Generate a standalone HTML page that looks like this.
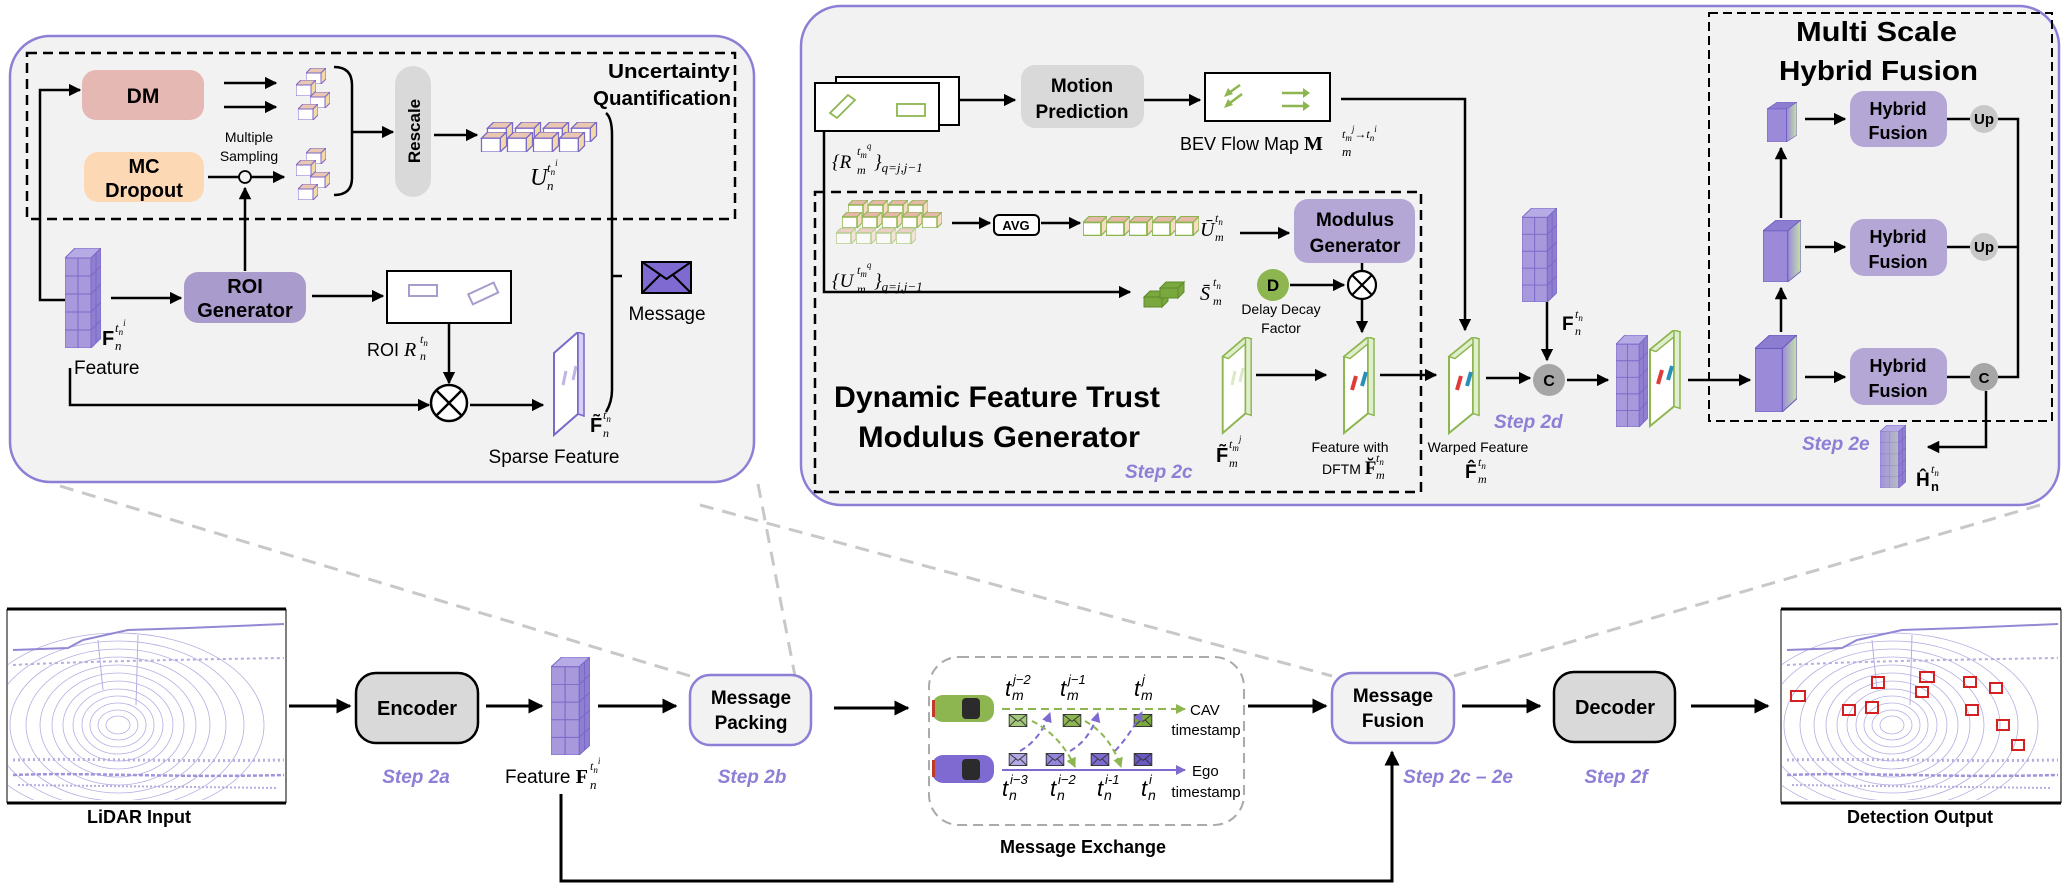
<!DOCTYPE html>
<html><head><meta charset="utf-8"><style>
html,body{margin:0;padding:0;background:#fff;}
svg{display:block;}
text{font-family:"Liberation Sans Narrow","Liberation Sans",sans-serif;}
.b{font-weight:bold;}
.m{font-family:"Liberation Serif",serif;font-style:italic;}
.st{font-family:"Liberation Sans Narrow","Liberation Sans",sans-serif;font-style:italic;font-weight:bold;fill:#8c7fd6;font-size:19px;}
</style></head><body>
<svg width="2069" height="888" viewBox="0 0 2069 888" xmlns="http://www.w3.org/2000/svg">
<defs>
<marker id="a" viewBox="0 0 10 10" refX="9" refY="5" markerWidth="5" markerHeight="5" orient="auto-start-reverse" markerUnits="strokeWidth"><path d="M0,0 L10,5 L0,10 z" fill="#000"/></marker>
<marker id="ag" viewBox="0 0 10 10" refX="9" refY="5" markerWidth="5" markerHeight="5" orient="auto"><path d="M0,0 L10,5 L0,10 z" fill="#8db650"/></marker>
<marker id="ap" viewBox="0 0 10 10" refX="9" refY="5" markerWidth="5" markerHeight="5" orient="auto"><path d="M0,0 L10,5 L0,10 z" fill="#7e6ad0"/></marker>
<symbol id="wall" viewBox="0 0 36 100" preserveAspectRatio="none">
<polygon points="0,10 10,0 36,0 26,10" fill="#b7abe6" stroke="#7b68c8" stroke-width="1"/>
<polygon points="26,10 36,0 36,90 26,100" fill="#8f7fd0" stroke="#7b68c8" stroke-width="1"/>
<rect x="0" y="10" width="26" height="90" fill="#a898dc" stroke="#7b68c8" stroke-width="1"/>
<path d="M13,10V100M0,28H26M0,46H26M0,64H26M0,82H26M31,5V95M26,28L36,18M26,46L36,36M26,64L36,54M26,82L36,72" stroke="#7b68c8" stroke-width="1" fill="none"/>
</symbol>
<linearGradient id="gpg" x1="0" y1="0" x2="1" y2="0"><stop offset="0" stop-color="#9a8ad8"/><stop offset="1" stop-color="#c6e3a8"/></linearGradient>
<symbol id="gcube" viewBox="0 0 40 80" preserveAspectRatio="none">
<polygon points="0,14 14,0 40,0 26,14" fill="#8d7dd0" stroke="#6a58c0"/>
<polygon points="26,14 40,0 40,66 26,80" fill="url(#gpg)" stroke="#6a58c0"/>
<rect x="0" y="14" width="26" height="66" fill="#9a8ad8" stroke="#6a58c0"/>
</symbol>
<symbol id="slabg" viewBox="0 0 40 100" preserveAspectRatio="none">
<polygon points="6,20 30,0 30,78 6,98" fill="#fff" stroke="#8db650" stroke-width="2"/>
<polygon points="6,20 30,0 36,2 12,22" fill="#dfeecd" stroke="#8db650" stroke-width="1.5"/>
<polygon points="30,0 36,2 36,80 30,78" fill="#dfeecd" stroke="#8db650" stroke-width="1.5"/>
</symbol>
<symbol id="slabp" viewBox="0 0 40 100" preserveAspectRatio="none">
<polygon points="6,20 30,0 30,78 6,98" fill="#fff" stroke="#7b68c8" stroke-width="2"/>
<polygon points="30,0 36,2 36,80 30,78" fill="#d8d0f2" stroke="#7b68c8" stroke-width="1.5"/>
</symbol>
<symbol id="uc" viewBox="0 0 20 16">
<polygon points="0,5 5,0 20,0 15,5" fill="#e9c7b0" stroke="#7b68c8"/>
<polygon points="15,5 20,0 20,11 15,16" fill="#f4d9a8" stroke="#7b68c8"/>
<rect x="0" y="5" width="15" height="11" fill="#fff" stroke="#7b68c8"/>
</symbol>
<symbol id="ug" viewBox="0 0 20 16">
<polygon points="0,5 5,0 20,0 15,5" fill="#e7b8a8" stroke="#8db650"/>
<polygon points="15,5 20,0 20,11 15,16" fill="#f6dcc0" stroke="#8db650"/>
<rect x="0" y="5" width="15" height="11" fill="#fff" stroke="#8db650" stroke-width="1.5"/>
</symbol>
<symbol id="env" viewBox="0 0 20 14"><rect x="0.5" y="0.5" width="19" height="13" stroke="#333" stroke-width="1"/><path d="M0.5,0.5 L10,8 L19.5,0.5 M0.5,13.5 L8,6 M19.5,13.5 L12,6" stroke="#333" fill="none" stroke-width="1"/></symbol>
<clipPath id="lc"><rect x="0" y="0" width="276" height="190"/></clipPath>
<g id="lidar">
<rect x="0" y="0" width="278" height="192" fill="#fff"/>
<g clip-path="url(#lc)" fill="none" stroke="#9c94d8" stroke-width="0.8" opacity="0.75">
<ellipse cx="110" cy="115" rx="12" ry="9"/><ellipse cx="110" cy="115" rx="20" ry="15"/><ellipse cx="110" cy="115" rx="28" ry="22"/><ellipse cx="110" cy="115" rx="36" ry="29"/><ellipse cx="110" cy="115" rx="45" ry="36"/><ellipse cx="110" cy="115" rx="55" ry="44"/><ellipse cx="110" cy="115" rx="66" ry="52"/><ellipse cx="110" cy="115" rx="78" ry="60"/><ellipse cx="110" cy="115" rx="92" ry="68"/><ellipse cx="110" cy="115" rx="108" ry="76"/><ellipse cx="110" cy="115" rx="126" ry="84"/><ellipse cx="110" cy="115" rx="146" ry="92"/>
<path d="M5,40 L60,38 L75,30 L120,20 L180,18 L276,14" stroke="#6e62c8" stroke-width="2"/>
<path d="M5,55 C60,52 150,50 276,48" stroke-dasharray="3 3" stroke-width="2"/>
<path d="M5,150 C80,148 160,152 276,150" stroke-dasharray="2 3" stroke-width="3"/>
<path d="M5,165 C80,162 160,168 276,165" stroke-dasharray="4 2" stroke-width="2.5" stroke="#7e72d0"/>
<path d="M10,175 L270,178" stroke-dasharray="2 2" stroke-width="2"/>
<path d="M90,30 L95,80 M130,25 L128,95" stroke-width="1"/>
</g></g>
</defs>

<g stroke="#c8c8c8" stroke-width="3" stroke-dasharray="14 9" fill="none">
<path d="M60,486 L690,676"/><path d="M758,484 L795,676"/>
<path d="M700,505 L1332,676"/><path d="M2040,505 L1454,676"/>
</g>

<!-- LEFT PANEL -->
<rect x="10" y="36" width="744" height="446" rx="40" fill="#f2f2f2" stroke="#8c7fd6" stroke-width="2.5"/>
<rect x="27" y="53" width="708" height="166" fill="none" stroke="#000" stroke-width="2.5" stroke-dasharray="10 6"/>
<rect x="82" y="70" width="122" height="50" rx="14" fill="#e6b8b4"/>
<text x="143" y="103" font-size="21" class="b" text-anchor="middle">DM</text>
<rect x="84" y="152" width="120" height="50" rx="14" fill="#fdd8b5"/>
<text x="144" y="173" font-size="20" class="b" text-anchor="middle">MC</text>
<text x="144" y="197" font-size="20" class="b" text-anchor="middle">Dropout</text>
<g stroke="#000" stroke-width="2.5" fill="none">
<path d="M224,83H276" marker-end="url(#a)"/><path d="M224,107H276" marker-end="url(#a)"/>
<path d="M208,177H239"/><path d="M251,177H284" marker-end="url(#a)"/>
<path d="M245,271V188" marker-end="url(#a)"/>
<path d="M334,67 Q352,67 352,85 L352,178 Q352,195 334,195"/>
<path d="M352,132H393" marker-end="url(#a)"/>
<path d="M434,135H477" marker-end="url(#a)"/>
<path d="M65,300 H40 V90 H80" marker-end="url(#a)"/>
<path d="M111,298H181" marker-end="url(#a)"/>
<path d="M312,296H383" marker-end="url(#a)"/>
<path d="M449,323V383" marker-end="url(#a)"/>
<path d="M70,368 V405 H429" marker-end="url(#a)"/>
<path d="M470,405H543" marker-end="url(#a)"/>
<path d="M606,113 Q612,118 612,135 L612,390 Q612,402 606,412"/>
<path d="M612,276H622"/>
</g>
<circle cx="245" cy="177" r="6" fill="none" stroke="#000" stroke-width="1.8"/>
<text x="249" y="142" font-size="14" text-anchor="middle">Multiple</text>
<text x="249" y="161" font-size="14" text-anchor="middle">Sampling</text>
<use href="#uc" x="306" y="68" width="20" height="16"/><use href="#uc" x="296" y="80" width="20" height="16"/><use href="#uc" x="310" y="92" width="20" height="16"/><use href="#uc" x="298" y="104" width="20" height="16"/>
<use href="#uc" x="306" y="148" width="20" height="16"/><use href="#uc" x="296" y="160" width="20" height="16"/><use href="#uc" x="310" y="172" width="20" height="16"/><use href="#uc" x="298" y="184" width="20" height="16"/>
<rect x="395" y="66" width="36" height="131" rx="18" fill="#d9d9d9"/>
<text transform="translate(420,131) rotate(-90)" font-size="17" class="b" text-anchor="middle" font-family="Liberation Sans">Rescale</text>
<use href="#uc" x="486" y="122" width="28" height="20"/><use href="#uc" x="514" y="122" width="28" height="20"/><use href="#uc" x="542" y="122" width="28" height="20"/><use href="#uc" x="570" y="122" width="28" height="20"/>
<use href="#uc" x="480" y="132" width="28" height="20"/><use href="#uc" x="506" y="132" width="28" height="20"/><use href="#uc" x="532" y="132" width="28" height="20"/><use href="#uc" x="558" y="132" width="28" height="20"/>
<text x="530" y="185" font-size="24" class="m">U</text>
<text x="547" y="172" font-size="13" class="m">t<tspan font-size="9" dy="3">n</tspan><tspan font-size="9" dy="-9">i</tspan></text>
<text x="547" y="190" font-size="13" class="m">n</text>
<text x="608" y="78" font-size="20" class="b" textLength="122" lengthAdjust="spacingAndGlyphs">Uncertainty</text>
<text x="593" y="105" font-size="20" class="b" textLength="138" lengthAdjust="spacingAndGlyphs">Quantification</text>
<use href="#wall" x="65" y="248" width="36" height="100"/>
<text x="102" y="345" font-size="20" font-family="Liberation Serif" font-weight="bold">F</text>
<text x="115" y="332" font-size="13" class="m">t<tspan font-size="9" dy="3">n</tspan><tspan font-size="9" dy="-9">i</tspan></text>
<text x="115" y="350" font-size="13" class="m">n</text>
<text x="74" y="374" font-size="19">Feature</text>
<rect x="184" y="272" width="122" height="51" rx="14" fill="#a99bcc"/>
<text x="245" y="293" font-size="20" class="b" text-anchor="middle">ROI</text>
<text x="245" y="317" font-size="20" class="b" text-anchor="middle">Generator</text>
<rect x="387" y="271" width="124" height="52" fill="#fff" stroke="#000" stroke-width="2"/>
<rect x="409" y="285" width="28" height="11" fill="none" stroke="#a99bcc" stroke-width="2"/>
<rect x="469" y="288" width="28" height="11" fill="none" stroke="#a99bcc" stroke-width="2" transform="rotate(-25 483 293)"/>
<text x="367" y="356" font-size="18">ROI <tspan class="m" font-size="20">R</tspan></text>
<text x="420" y="343" font-size="12" class="m">t<tspan font-size="9" dy="3">n</tspan></text>
<text x="420" y="360" font-size="12" class="m">n</text>
<circle cx="449" cy="403" r="18" fill="#fff" stroke="#000" stroke-width="2.5"/>
<path d="M436,390 L462,416 M462,390 L436,416" stroke="#000" stroke-width="2.5"/>
<use href="#slabp" x="548" y="332" width="40" height="105"/>
<path d="M563,385 l3,-14 M573,380 l3,-14" stroke="#c0b4e6" stroke-width="3"/>
<text x="590" y="432" font-size="20" font-family="Liberation Serif" font-weight="bold">F̃</text>
<text x="603" y="419" font-size="12" class="m">t<tspan font-size="9" dy="3">n</tspan></text>
<text x="603" y="437" font-size="12" class="m">n</text>
<text x="554" y="463" font-size="19" text-anchor="middle">Sparse Feature</text>
<g transform="translate(642,262)"><rect x="0" y="0" width="49" height="31" fill="#7e6ad0" stroke="#000" stroke-width="2"/><path d="M0,0 L24.5,17 L49,0 M0,31 L18,13 M49,31 L31,13" stroke="#000" stroke-width="2" fill="none"/></g>
<text x="667" y="320" font-size="19" text-anchor="middle">Message</text>

<!-- RIGHT PANEL -->
<rect x="801" y="6" width="1258" height="499" rx="40" fill="#f2f2f2" stroke="#8c7fd6" stroke-width="2.5"/>
<rect x="1709" y="13" width="343" height="408" fill="none" stroke="#000" stroke-width="2" stroke-dasharray="9 5"/>
<rect x="815" y="192" width="606" height="300" fill="none" stroke="#000" stroke-width="2.5" stroke-dasharray="10 6"/>
<rect x="836" y="77" width="123" height="48" fill="#fff" stroke="#000" stroke-width="2"/>
<rect x="815" y="83" width="124" height="48" fill="#fff" stroke="#000" stroke-width="2"/>
<polygon points="830,113 848,95 855,100 837,118" fill="none" stroke="#8db650" stroke-width="1.8"/>
<rect x="897" y="104" width="28" height="12" fill="none" stroke="#8db650" stroke-width="1.8"/>
<rect x="1021" y="65" width="123" height="63" rx="14" fill="#d9d9d9"/>
<text x="1082" y="92" font-size="19" class="b" text-anchor="middle">Motion</text>
<text x="1082" y="118" font-size="19" class="b" text-anchor="middle">Prediction</text>
<rect x="1205" y="73" width="125" height="48" fill="#fff" stroke="#000" stroke-width="2"/>
<g stroke="#8db650" stroke-width="2.5" fill="none"><path d="M1240,85 l-14,10"/><path d="M1242,94 l-16,12"/><path d="M1282,93 h24"/><path d="M1282,106 h24"/></g>
<g fill="#8db650"><path d="M1224,97 l4,-9 l5,6z"/><path d="M1224,108 l4,-9 l5,6z"/><path d="M1310,93 l-7,-5 v10z"/><path d="M1310,106 l-7,-5 v10z"/></g>
<g stroke="#000" stroke-width="2.5" fill="none">
<path d="M959,100H1015" marker-end="url(#a)"/>
<path d="M1144,100H1200" marker-end="url(#a)"/>
<path d="M1341,99 H1465 V330" marker-end="url(#a)"/>
<path d="M824,131 V292 H1130" marker-end="url(#a)"/>
<path d="M952,223H990" marker-end="url(#a)"/>
<path d="M1041,223H1080" marker-end="url(#a)"/>
<path d="M1240,233H1289" marker-end="url(#a)"/>
<path d="M1362,263V271"/>
<path d="M1290,285H1344" marker-end="url(#a)"/>
<path d="M1362,299V332" marker-end="url(#a)"/>
<path d="M1256,375H1326" marker-end="url(#a)"/>
<path d="M1380,375H1436" marker-end="url(#a)"/>
<path d="M1486,378H1530" marker-end="url(#a)"/>
<path d="M1547,302V360" marker-end="url(#a)"/>
<path d="M1567,380H1608" marker-end="url(#a)"/>
<path d="M1688,380H1750" marker-end="url(#a)"/>
<path d="M1781,332V288" marker-end="url(#a)"/>
<path d="M1781,218V148" marker-end="url(#a)"/>
<path d="M1805,119H1845" marker-end="url(#a)"/>
<path d="M1805,247H1845" marker-end="url(#a)"/>
<path d="M1805,377H1845" marker-end="url(#a)"/>
<path d="M1947,119H1970 M1998,119H2018 V377 H1998 M1947,247H1970 M1998,247H2018 M1947,377H1970"/>
<path d="M1986,391 V447 H1928" marker-end="url(#a)"/>
</g>
<text x="1180" y="150" font-size="18">BEV Flow Map <tspan font-family="Liberation Serif" font-weight="bold" font-size="20">M</tspan></text>
<text x="1342" y="138" font-size="12" class="m">t<tspan font-size="9" dy="3">m</tspan><tspan font-size="9" dy="-9">j</tspan><tspan dy="6">→t</tspan><tspan font-size="9" dy="3">n</tspan><tspan font-size="9" dy="-9">i</tspan></text>
<text x="1342" y="156" font-size="13" class="m">m</text>
<text x="832" y="168" font-size="19" class="m">{R</text>
<text x="857" y="155" font-size="12" class="m">t<tspan font-size="9" dy="3">m</tspan><tspan font-size="9" dy="-9">q</tspan></text>
<text x="857" y="174" font-size="12" class="m">m</text>
<text x="874" y="168" font-size="19" class="m">}<tspan font-size="13" dy="4">q=j,j−1</tspan></text>
<use href="#ug" x="848" y="200" width="20" height="16"/><use href="#ug" x="868" y="200" width="20" height="16"/><use href="#ug" x="888" y="200" width="20" height="16"/><use href="#ug" x="908" y="200" width="20" height="16"/>
<use href="#ug" x="842" y="212" width="20" height="16"/><use href="#ug" x="862" y="212" width="20" height="16"/><use href="#ug" x="882" y="212" width="20" height="16"/><use href="#ug" x="902" y="212" width="20" height="16"/><use href="#ug" x="922" y="212" width="20" height="16"/>
<use href="#ug" x="836" y="228" width="20" height="16" opacity="0.6"/><use href="#ug" x="856" y="228" width="20" height="16" opacity="0.6"/><use href="#ug" x="876" y="228" width="20" height="16" opacity="0.6"/><use href="#ug" x="896" y="228" width="20" height="16" opacity="0.6"/>
<rect x="994" y="215" width="45" height="20" rx="5" fill="#fff" stroke="#000" stroke-width="2"/>
<text x="1016" y="230" font-size="13" class="b" text-anchor="middle" font-family="Liberation Sans">AVG</text>
<use href="#ug" x="1083" y="216" width="24" height="20"/><use href="#ug" x="1106" y="216" width="24" height="20"/><use href="#ug" x="1129" y="216" width="24" height="20"/><use href="#ug" x="1152" y="216" width="24" height="20"/><use href="#ug" x="1175" y="216" width="24" height="20"/>
<text x="1200" y="236" font-size="20" class="m">Ū</text>
<text x="1215" y="222" font-size="12" class="m">t<tspan font-size="9" dy="3">n</tspan></text>
<text x="1215" y="241" font-size="12" class="m">m</text>
<text x="832" y="287" font-size="19" class="m">{U</text>
<text x="857" y="274" font-size="12" class="m">t<tspan font-size="9" dy="3">m</tspan><tspan font-size="9" dy="-9">q</tspan></text>
<text x="857" y="293" font-size="12" class="m">m</text>
<text x="874" y="287" font-size="19" class="m">}<tspan font-size="13" dy="4">q=j,j−1</tspan></text>
<g fill="#7aa83e" stroke="#5e8a2a"><polygon points="1144,297 1150,291 1168,291 1162,297"/><rect x="1144" y="297" width="18" height="10"/><polygon points="1162,297 1168,291 1168,301 1162,307"/><polygon points="1160,288 1166,282 1184,282 1178,288"/><rect x="1160" y="288" width="18" height="10"/><polygon points="1178,288 1184,282 1184,292 1178,298"/></g>
<text x="1200" y="300" font-size="20" class="m">S̄</text>
<text x="1213" y="286" font-size="12" class="m">t<tspan font-size="9" dy="3">n</tspan></text>
<text x="1213" y="305" font-size="12" class="m">m</text>
<rect x="1294" y="199" width="121" height="64" rx="14" fill="#b4a7d6"/>
<text x="1355" y="226" font-size="19" class="b" text-anchor="middle">Modulus</text>
<text x="1355" y="252" font-size="19" class="b" text-anchor="middle">Generator</text>
<circle cx="1273" cy="285" r="16" fill="#8db650"/>
<text x="1273" y="291" font-size="17" class="b" text-anchor="middle">D</text>
<circle cx="1362" cy="285" r="14" fill="#fff" stroke="#000" stroke-width="2.2"/>
<path d="M1352,275 L1372,295 M1372,275 L1352,295" stroke="#000" stroke-width="2.2"/>
<text x="1281" y="314" font-size="14" text-anchor="middle">Delay Decay</text>
<text x="1281" y="333" font-size="14" text-anchor="middle">Factor</text>
<use href="#slabg" x="1217" y="337" width="38" height="98"/>
<path d="M1232,385 l3,-14 M1240,382 l3,-14" stroke="#dbe9c6" stroke-width="3"/>
<use href="#slabg" x="1338" y="337" width="40" height="98"/>
<path d="M1352,390 l4,-14" stroke="#e03b3b" stroke-width="4"/><path d="M1362,386 l4,-14" stroke="#2a8fb8" stroke-width="4"/>
<use href="#slabg" x="1443" y="337" width="40" height="98"/>
<path d="M1457,390 l4,-14" stroke="#e03b3b" stroke-width="4"/><path d="M1467,386 l4,-14" stroke="#2a8fb8" stroke-width="4"/>
<text x="834" y="407" font-size="30" class="b" textLength="326" lengthAdjust="spacingAndGlyphs">Dynamic Feature Trust</text>
<text x="858" y="447" font-size="30" class="b" textLength="282" lengthAdjust="spacingAndGlyphs">Modulus Generator</text>
<text x="1125" y="478" class="st">Step 2c</text>
<text x="1216" y="462" font-size="20" font-family="Liberation Serif" font-weight="bold">F̃</text>
<text x="1229" y="448" font-size="12" class="m">t<tspan font-size="9" dy="3">m</tspan><tspan font-size="9" dy="-9">j</tspan></text>
<text x="1229" y="467" font-size="12" class="m">m</text>
<text x="1350" y="452" font-size="14" text-anchor="middle">Feature with</text>
<text x="1322" y="474" font-size="14">DFTM <tspan font-family="Liberation Serif" font-weight="bold" font-size="19">F̆</tspan></text>
<text x="1376" y="462" font-size="12" class="m">t<tspan font-size="9" dy="3">n</tspan></text>
<text x="1376" y="479" font-size="12" class="m">m</text>
<text x="1478" y="452" font-size="14" text-anchor="middle">Warped Feature</text>
<text x="1465" y="478" font-size="19" font-family="Liberation Serif" font-weight="bold">F̂</text>
<text x="1478" y="466" font-size="12" class="m">t<tspan font-size="9" dy="3">n</tspan></text>
<text x="1478" y="483" font-size="12" class="m">m</text>
<text x="1494" y="428" class="st">Step 2d</text>
<circle cx="1549" cy="380" r="16" fill="#a6a6a6"/>
<text x="1549" y="386" font-size="16" class="b" text-anchor="middle">C</text>
<use href="#wall" x="1522" y="208" width="35" height="94"/>
<text x="1562" y="330" font-size="19" font-family="Liberation Serif" font-weight="bold">F</text>
<text x="1575" y="318" font-size="12" class="m">t<tspan font-size="9" dy="3">n</tspan></text>
<text x="1575" y="335" font-size="12" class="m">n</text>
<use href="#wall" x="1616" y="335" width="32" height="92"/>
<use href="#slabg" x="1644" y="330" width="40" height="98"/>
<path d="M1658,384 l4,-14" stroke="#e03b3b" stroke-width="4"/><path d="M1668,380 l4,-14" stroke="#2a8fb8" stroke-width="4"/>
<use href="#gcube" x="1755" y="335" width="42" height="77"/>
<use href="#gcube" x="1763" y="220" width="38" height="62"/>
<use href="#gcube" x="1767" y="102" width="30" height="40"/>
<text x="1796" y="41" font-size="28" class="b" textLength="161" lengthAdjust="spacingAndGlyphs">Multi Scale</text>
<text x="1779" y="80" font-size="28" class="b" textLength="199" lengthAdjust="spacingAndGlyphs">Hybrid Fusion</text>
<rect x="1850" y="91" width="97" height="56" rx="14" fill="#b4a7d6"/>
<rect x="1850" y="219" width="97" height="57" rx="14" fill="#b4a7d6"/>
<rect x="1850" y="348" width="97" height="57" rx="14" fill="#b4a7d6"/>
<g font-size="18" class="b" text-anchor="middle">
<text x="1898" y="115">Hybrid</text><text x="1898" y="139">Fusion</text>
<text x="1898" y="243">Hybrid</text><text x="1898" y="268">Fusion</text>
<text x="1898" y="372">Hybrid</text><text x="1898" y="397">Fusion</text>
</g>
<circle cx="1984" cy="119" r="14" fill="#c8c8c8"/><text x="1984" y="124" font-size="15" class="b" text-anchor="middle">Up</text>
<circle cx="1984" cy="247" r="14" fill="#c8c8c8"/><text x="1984" y="252" font-size="15" class="b" text-anchor="middle">Up</text>
<circle cx="1984" cy="377" r="14" fill="#a6a6a6"/><text x="1984" y="383" font-size="15" class="b" text-anchor="middle">C</text>
<text x="1802" y="450" class="st">Step 2e</text>
<use href="#wall" x="1880" y="425" width="26" height="63"/>
<rect x="1880" y="431" width="18" height="57" fill="url(#gpg)" opacity="0.45"/>
<text x="1916" y="486" font-size="19" font-family="Liberation Serif" font-weight="bold">Ĥ</text>
<text x="1931" y="473" font-size="12" class="m">t<tspan font-size="9" dy="3">n</tspan></text>
<text x="1931" y="491" font-size="13" font-family="Liberation Serif" font-weight="bold">n</text>

<!-- BOTTOM PIPELINE -->
<use href="#lidar" x="8" y="610"/>
<path d="M7,609H286 M7,803H286" stroke="#000" stroke-width="3"/>
<path d="M7,609V803 M286,609V803" stroke="#000" stroke-width="1"/>
<text x="139" y="823" font-size="18" class="b" text-anchor="middle">LiDAR Input</text>
<use href="#lidar" x="1782" y="610"/>
<path d="M1781,609H2061 M1781,803H2061" stroke="#000" stroke-width="3"/>
<path d="M1781,609V803 M2061,609V803" stroke="#000" stroke-width="1"/>
<g fill="none" stroke="#d42020" stroke-width="2">
<rect x="1791" y="691" width="14" height="10"/><rect x="1843" y="705" width="12" height="10"/><rect x="1866" y="702" width="12" height="11"/><rect x="1872" y="677" width="12" height="11"/><rect x="1916" y="687" width="12" height="10"/><rect x="1920" y="672" width="14" height="10"/><rect x="1964" y="677" width="12" height="10"/><rect x="1966" y="705" width="12" height="10"/><rect x="1990" y="683" width="12" height="10"/><rect x="1997" y="720" width="12" height="10"/><rect x="2012" y="740" width="12" height="10"/></g>
<text x="1920" y="823" font-size="18" class="b" text-anchor="middle">Detection Output</text>
<g stroke="#000" stroke-width="3" fill="none">
<path d="M289,706H350" marker-end="url(#a)"/>
<path d="M486,706H542" marker-end="url(#a)"/>
<path d="M598,706H676" marker-end="url(#a)"/>
<path d="M834,708H908" marker-end="url(#a)"/>
<path d="M1248,706H1326" marker-end="url(#a)"/>
<path d="M1462,706H1540" marker-end="url(#a)"/>
<path d="M1691,706H1768" marker-end="url(#a)"/>
<path d="M561,794 V881 H1392 V752" marker-end="url(#a)"/>
</g>
<rect x="356" y="673" width="122" height="70" rx="20" fill="#d9d9d9" stroke="#000" stroke-width="2.5"/>
<text x="417" y="715" font-size="20" class="b" text-anchor="middle">Encoder</text>
<text x="416" y="783" class="st" text-anchor="middle">Step 2a</text>
<use href="#wall" x="551" y="657" width="39" height="98"/>
<text x="505" y="783" font-size="19">Feature <tspan font-family="Liberation Serif" font-weight="bold" font-size="20">F</tspan></text>
<text x="590" y="770" font-size="12" class="m">t<tspan font-size="9" dy="3">n</tspan><tspan font-size="9" dy="-9">i</tspan></text>
<text x="590" y="789" font-size="13" class="m">n</text>
<rect x="690" y="675" width="121" height="70" rx="20" fill="#f2f2f2" stroke="#8c7fd6" stroke-width="2.5"/>
<text x="751" y="704" font-size="19" class="b" text-anchor="middle">Message</text>
<text x="751" y="729" font-size="19" class="b" text-anchor="middle">Packing</text>
<text x="752" y="783" class="st" text-anchor="middle">Step 2b</text>
<rect x="1332" y="673" width="122" height="70" rx="20" fill="#f2f2f2" stroke="#8c7fd6" stroke-width="2.5"/>
<text x="1393" y="702" font-size="19" class="b" text-anchor="middle">Message</text>
<text x="1393" y="727" font-size="19" class="b" text-anchor="middle">Fusion</text>
<text x="1458" y="783" class="st" text-anchor="middle">Step 2c – 2e</text>
<rect x="1554" y="672" width="121" height="70" rx="20" fill="#d9d9d9" stroke="#000" stroke-width="2.5"/>
<text x="1615" y="714" font-size="20" class="b" text-anchor="middle">Decoder</text>
<text x="1616" y="783" class="st" text-anchor="middle">Step 2f</text>

<rect x="929" y="657" width="315" height="168" rx="30" fill="#fff" stroke="#aaa" stroke-width="2" stroke-dasharray="10 6"/>
<text x="1083" y="853" font-size="18" class="b" text-anchor="middle">Message Exchange</text>
<g>
<rect x="932" y="695" width="62" height="27" rx="11" fill="#8db650"/><rect x="962" y="698" width="18" height="21" rx="4" fill="#2b2b2b"/><rect x="932" y="700" width="3" height="17" fill="#c0392b"/>
<rect x="932" y="755" width="62" height="28" rx="11" fill="#7e6ad0"/><rect x="962" y="759" width="18" height="21" rx="4" fill="#2b2b2b"/><rect x="932" y="760" width="3" height="17" fill="#c0392b"/>
</g>
<path d="M1002,709H1185" stroke="#8db650" stroke-width="2" stroke-dasharray="8 5" marker-end="url(#ag)"/>
<path d="M1002,770H1185" stroke="#7e6ad0" stroke-width="2" marker-end="url(#ap)"/>
<use href="#env" x="1008" y="714" width="20" height="13" fill="#a5c97a"/><use href="#env" x="1062" y="714" width="20" height="13" fill="#8db650"/><use href="#env" x="1133" y="714" width="20" height="13" fill="#7aa83e"/>
<use href="#env" x="1008" y="753" width="20" height="13" fill="#b3a8e6"/><use href="#env" x="1045" y="753" width="20" height="13" fill="#9484dc"/><use href="#env" x="1090" y="753" width="20" height="13" fill="#7e6ad0"/><use href="#env" x="1133" y="753" width="20" height="13" fill="#6a58c0"/>
<g fill="none" stroke-width="2" stroke-dasharray="6 4">
<path d="M1020,751 Q1040,740 1050,713" stroke="#7e6ad0" marker-end="url(#ap)"/>
<path d="M1070,751 Q1090,740 1098,713" stroke="#7e6ad0" marker-end="url(#ap)"/>
<path d="M1115,751 Q1130,735 1142,712" stroke="#7e6ad0" marker-end="url(#ap)"/>
<path d="M1032,721 Q1060,735 1075,767" stroke="#8db650" marker-end="url(#ag)"/>
<path d="M1085,721 Q1110,735 1121,767" stroke="#8db650" marker-end="url(#ag)"/>
</g>
<g class="m">
<text x="1005" y="696" font-size="22">t</text><text x="1013" y="684" font-size="13">j−2</text><text x="1012" y="700" font-size="14">m</text>
<text x="1060" y="696" font-size="22">t</text><text x="1068" y="684" font-size="13">j−1</text><text x="1067" y="700" font-size="14">m</text>
<text x="1134" y="696" font-size="22">t</text><text x="1142" y="684" font-size="13">j</text><text x="1141" y="700" font-size="14">m</text>
<text x="1002" y="796" font-size="22">t</text><text x="1010" y="784" font-size="13">i−3</text><text x="1009" y="800" font-size="14">n</text>
<text x="1050" y="796" font-size="22">t</text><text x="1058" y="784" font-size="13">i−2</text><text x="1057" y="800" font-size="14">n</text>
<text x="1097" y="796" font-size="22">t</text><text x="1105" y="784" font-size="13">i-1</text><text x="1104" y="800" font-size="14">n</text>
<text x="1141" y="796" font-size="22">t</text><text x="1149" y="784" font-size="13">i</text><text x="1148" y="800" font-size="14">n</text>
</g>
<text x="1190" y="715" font-size="15">CAV</text>
<text x="1206" y="735" font-size="15" text-anchor="middle">timestamp</text>
<text x="1192" y="776" font-size="15">Ego</text>
<text x="1206" y="797" font-size="15" text-anchor="middle">timestamp</text>
</svg>
</body></html>
